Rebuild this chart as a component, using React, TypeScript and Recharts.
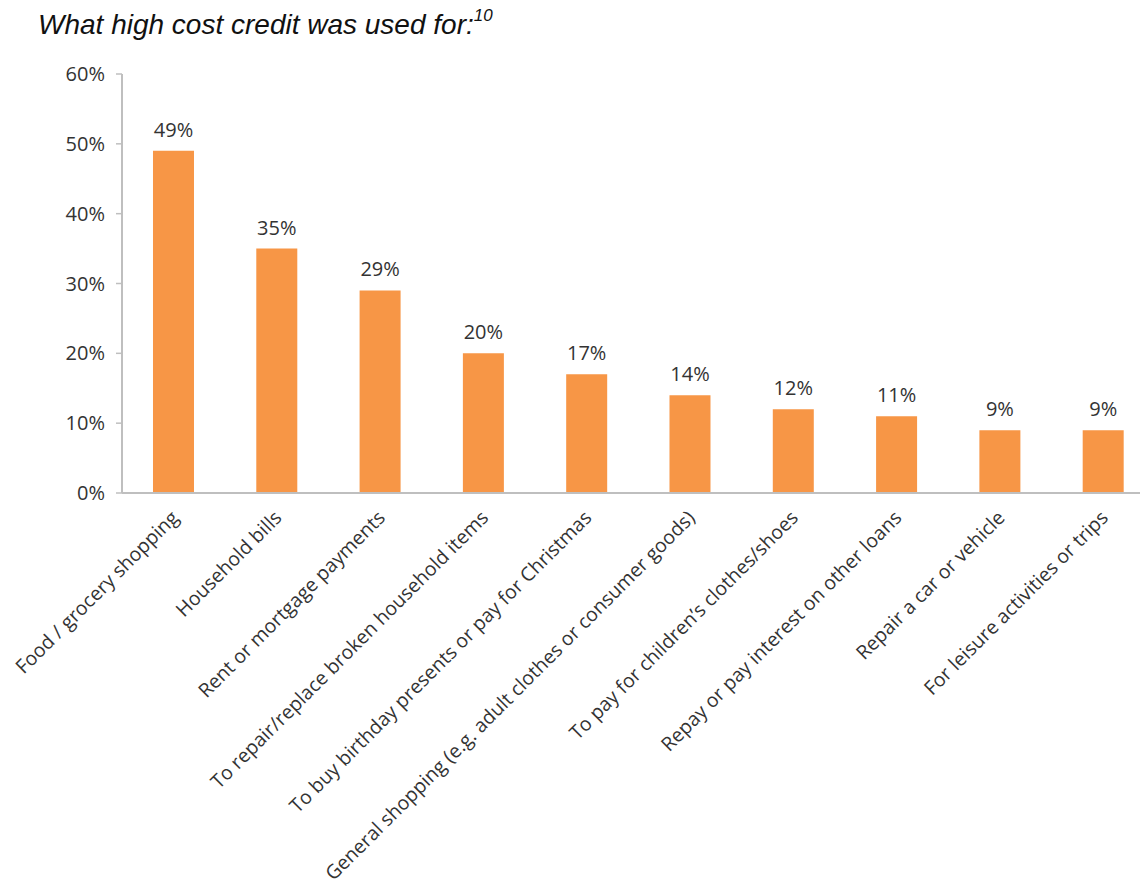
import React from "react";
import { BarChart, Bar, XAxis, YAxis, LabelList } from "recharts";

const categories = [
  "Food / grocery shopping",
  "Household bills",
  "Rent or mortgage payments",
  "To repair/replace broken household items",
  "To buy birthday presents or pay for Christmas",
  "General shopping (e.g. adult clothes or consumer goods)",
  "To pay for children’s clothes/shoes",
  "Repay or pay interest on other loans",
  "Repair a car or vehicle",
  "For leisure activities or trips",
];
const values = [49, 35, 29, 20, 17, 14, 12, 11, 9, 9];
const yTicks = [0, 10, 20, 30, 40, 50, 60];
const edgeTicks = [0, 1, 2, 3, 4, 5, 6, 7, 8, 9, 10];

const data = categories.map((c, i) => ({ category: c, value: values[i] }));

const FONT = "'Open Sans', sans-serif";
const TEXT = "#333333";
const AXIS = "#bfbfbf";

const XTick = (props: any) => {
  const { x, y, payload } = props;
  const tx = x + 6;
  const ty = y + 18;
  return (
    <text
      x={tx}
      y={ty}
      transform={`rotate(-45, ${tx}, ${ty})`}
      textAnchor="end"
      fontFamily={FONT}
      fontSize={19.5}
      fill={TEXT}
    >
      {payload.value}
    </text>
  );
};

export default function App() {
  return (
    <div style={{ position: "relative", width: 1140, height: 888 }}>
      <div
        style={{
          position: "absolute",
          left: 30,
          top: 1,
          fontFamily: "'Liberation Sans', Arial, sans-serif",
          fontStyle: "italic",
          fontSize: 28,
          lineHeight: "32px",
          color: "#111",
          whiteSpace: "nowrap",
          zIndex: 1,
        }}
      >
        What high cost credit was used for:
        <sup style={{ fontSize: 17, verticalAlign: "0.75em", lineHeight: 0 }}>10</sup>
      </div>
      <div style={{ position: "absolute", left: -8, top: 0, width: 1148, height: 888, overflow: "hidden" }}>
        <div style={{ marginLeft: 8 }}>
          <BarChart
            width={1147}
            height={888}
            data={data}
            margin={{ top: 66, right: 0, left: 0, bottom: 0 }}
            barCategoryGap="30%"
            style={{ overflow: "visible" }}
          >
            <XAxis
              xAxisId="edges"
              type="number"
              domain={[0, 10]}
              ticks={edgeTicks}
              allowDataOverflow
              axisLine={false}
              tickLine={{ stroke: AXIS, strokeWidth: 1.5 }}
              tickSize={6}
              tickFormatter={() => ""}
              height={0}
            />
            <XAxis
              dataKey="category"
              interval={0}
              height={403}
              tickLine={false}
              axisLine={{ stroke: AXIS, strokeWidth: 2 }}
              tick={<XTick />}
            />
            <YAxis
              width={114}
              domain={[0, 60]}
              ticks={yTicks}
              interval={0}
              tickFormatter={(v: number) => `${v}%`}
              axisLine={{ stroke: AXIS, strokeWidth: 2 }}
              tickLine={{ stroke: AXIS, strokeWidth: 1.5 }}
              tickSize={6}
              tickMargin={11}
              tick={{ fontFamily: FONT, fontSize: 20, fill: TEXT }}
            />
            <Bar dataKey="value" fill="#F79646" isAnimationActive={false}>
              <LabelList
                dataKey="value"
                position="top"
                offset={14}
                formatter={(v: any) => `${v}%`}
                style={{ fontFamily: FONT, fontSize: 20, fill: TEXT }}
              />
            </Bar>
          </BarChart>
        </div>
      </div>
    </div>
  );
}
